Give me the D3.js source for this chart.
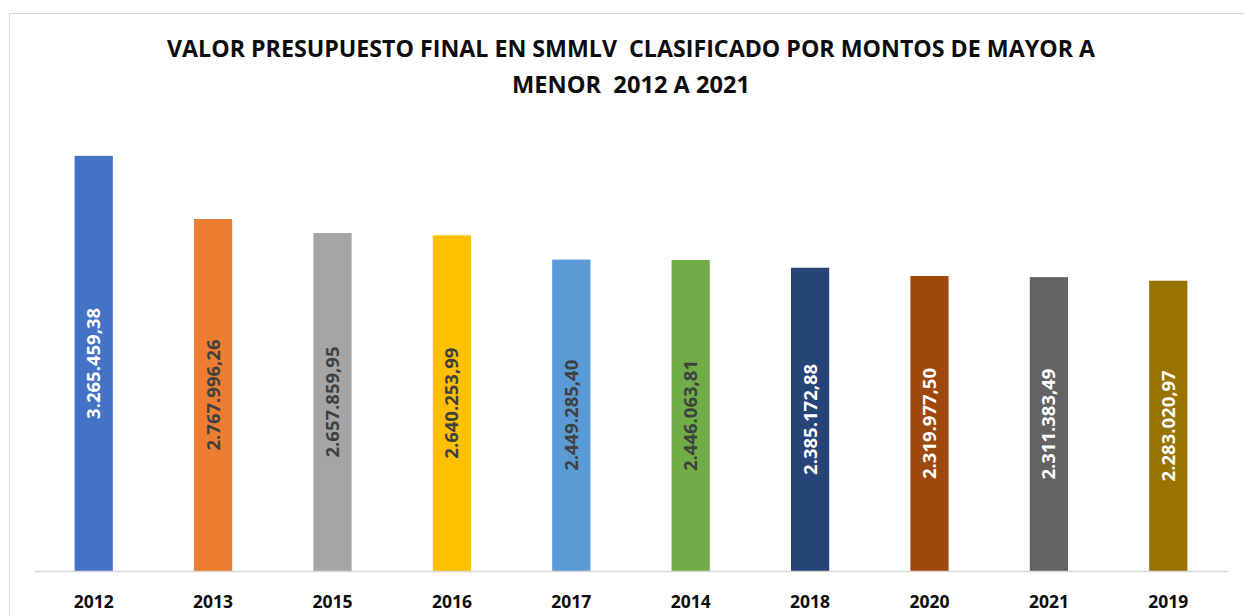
<!DOCTYPE html>
<html>
<head>
<meta charset="utf-8">
<script src="https://cdn.jsdelivr.net/npm/d3@7"></script>
<style>
  body { margin: 0; background: #fff; }
  text { font-family: "Open Sans", "Liberation Sans", sans-serif; font-weight: bold; white-space: pre; }
</style>
</head>
<body>
<div id="chart_div"></div>
<script>

// chart data
var years = ["2012", "2013", "2015", "2016", "2017", "2014", "2018", "2020", "2021", "2019"];
var values = [3265459.38, 2767996.26, 2657859.95, 2640253.99, 2449285.40, 2446063.81, 2385172.88, 2319977.50, 2311383.49, 2283020.97];
var labels = ["3.265.459,38", "2.767.996,26", "2.657.859,95", "2.640.253,99", "2.449.285,40",
    "2.446.063,81", "2.385.172,88", "2.319.977,50", "2.311.383,49", "2.283.020,97"];
var colors = ["#4472C4", "#ED7D31", "#A5A5A5", "#FFC000", "#5B9BD5", "#70AD47", "#264478", "#9E480E", "#636363", "#997300"];
var labelColors = ["#fff", "#404040", "#404040", "#404040", "#404040", "#404040", "#fff", "#fff", "#fff", "#fff"];
var titleLines = ["VALOR PRESUPUESTO FINAL EN SMMLV  CLASIFICADO POR MONTOS DE MAYOR A", "MENOR  2012 A 2021"];

var svg = d3.select("#chart_div").append("svg")
    .attr("width", 1244)
    .attr("height", 616);

// outer frame
svg.append("rect")
    .attr("x", 9.5)
    .attr("y", 13.5)
    .attr("width", 1250)
    .attr("height", 620)
    .attr("fill", "none")
    .attr("stroke", "#d9d9d9");

// title
svg.selectAll(".title")
    .data(titleLines)
    .enter().append("text")
    .attr("class", "title")
    .attr("x", 631)
    .attr("y", function (d, i) { return 57 + i * 36; })
    .attr("text-anchor", "middle")
    .attr("font-size", 23.5)
    .attr("fill", "#0d0d0d")
    .attr("textLength", function (d, i) { return i === 0 ? 928 : 238; })
    .attr("lengthAdjust", "spacingAndGlyphs")
    .text(function (d) { return d; });

var x = d3.scaleBand()
    .domain(years)
    .range([34, 1228])
    .paddingInner(0.68)
    .paddingOuter(0.34);

var y = d3.scaleLinear()
    .domain([0, 3500000])
    .range([571, 126]);

var data = years.map(function (d, i) {
    return {year: d, value: values[i], label: labels[i], color: colors[i], tc: labelColors[i]};
});

svg.selectAll(".bar")
    .data(data)
    .enter().append("rect")
    .attr("class", "bar")
    .attr("x", function (d) { return x(d.year); })
    .attr("y", function (d) { return y(d.value); })
    .attr("width", x.bandwidth())
    .attr("height", function (d) { return y(0) - y(d.value); })
    .attr("fill", function (d) { return d.color; });

// axis
var axis = svg.append("g")
    .attr("transform", "translate(0," + y(0) + ")")
    .call(d3.axisBottom(x).tickSize(0).tickPadding(25));
axis.select(".domain").attr("stroke", "#d9d9d9").attr("stroke-width", 1.5);
axis.selectAll("text")
    .attr("font-size", 17.5)
    .attr("fill", "#0d0d0d")
    .style("font-family", "'Open Sans', sans-serif");

// value labels
svg.selectAll(".vlabel")
    .data(data)
    .enter().append("text")
    .attr("class", "vlabel")
    .attr("transform", function (d) {
        var cx = x(d.year) + x.bandwidth() / 2;
        var cy = (y(d.value) + y(0)) / 2;
        return "translate(" + (cx + 6.5) + "," + cy + ") rotate(-90)";
    })
    .attr("text-anchor", "middle")
    .attr("font-size", 18.5)
    .attr("fill", function (d) { return d.tc; })
    .text(function (d) { return d.label; });

</script>
</body>
</html>
